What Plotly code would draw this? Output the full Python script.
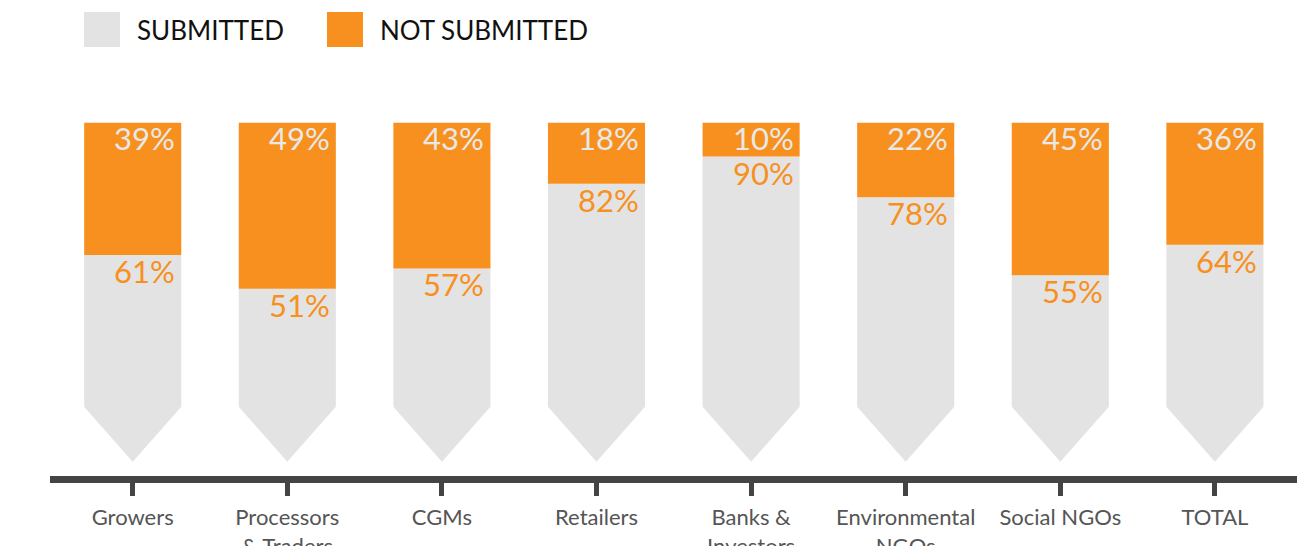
import plotly.graph_objects as go

categories = ["Growers", "Processors<br>& Traders", "CGMs", "Retailers",
              "Banks &<br>Investors", "Environmental<br>NGOs", "Social NGOs", "TOTAL"]
submitted = [61, 51, 57, 82, 90, 78, 55, 64]
not_submitted = [39, 49, 43, 18, 10, 22, 45, 36]

GRAY = "#E3E3E3"
ORANGE = "#F7901E"
AXIS = "#444444"
FONT = "Lato"

HW = 0.314      # half bar width (category units)
ARROW = 16.2    # arrow height (percentage units)

W, H = 1300, 546
ML, MR, MT, MB = 50, 3, 0, 70
PW = W - ML - MR
PH = H - MT - MB

fig = go.Figure()

for i, (s, n) in enumerate(zip(submitted, not_submitted)):
    total = s + n
    # gray pentagon (submitted)
    fig.add_trace(go.Scatter(
        x=[i - HW, i + HW, i + HW, i, i - HW, i - HW],
        y=[s, s, ARROW, 0, ARROW, s],
        fill="toself", fillcolor=GRAY, mode="lines",
        line=dict(width=0, color=GRAY), hoverinfo="skip", showlegend=False))
    # orange rectangle (not submitted)
    fig.add_trace(go.Scatter(
        x=[i - HW, i + HW, i + HW, i - HW, i - HW],
        y=[s, s, total, total, s],
        fill="toself", fillcolor=ORANGE, mode="lines",
        line=dict(width=0, color=ORANGE), hoverinfo="skip", showlegend=False))
    fig.add_annotation(x=i + HW, y=total, xref="x", yref="y",
                       text=f"{n}%", showarrow=False, xanchor="right", yanchor="top",
                       xshift=-5, yshift=5, borderpad=0,
                       font=dict(family=FONT, size=31, color="#E8E8E8"))
    fig.add_annotation(x=i + HW, y=s, xref="x", yref="y",
                       text=f"{s}%", showarrow=False, xanchor="right", yanchor="top",
                       xshift=-5, yshift=4, borderpad=0,
                       font=dict(family=FONT, size=31, color=ORANGE))

# legend (manual)
def px_x(p):
    return (p - ML) / PW

def px_y(p):
    return 1 - (p - MT) / PH

legend_items = [("SUBMITTED", GRAY, 84), ("NOT SUBMITTED", ORANGE, 327)]
for label, col, x0 in legend_items:
    fig.add_shape(type="rect", xref="paper", yref="paper",
                  x0=px_x(x0), x1=px_x(x0 + 36), y0=px_y(47), y1=px_y(12),
                  fillcolor=col, line=dict(width=0))
    fig.add_annotation(xref="paper", yref="paper", x=px_x(x0 + 51), y=px_y(30),
                       text=label, showarrow=False, xanchor="left", yanchor="middle",
                       font=dict(family=FONT, size=26, color="#111111"))

y_bottom = -((H - MB) - 461.7) / 3.39
y_top = 461.7 / 3.39

fig.update_layout(
    width=W, height=H,
    margin=dict(l=ML, r=MR, t=MT, b=MB, autoexpand=False),
    paper_bgcolor="white", plot_bgcolor="white",
    showlegend=False,
    xaxis=dict(
        range=[-0.535, 7.531], tickmode="array",
        tickvals=list(range(len(categories))), ticktext=categories,
        showgrid=False, zeroline=False, showline=True, linewidth=7, linecolor=AXIS,
        ticks="outside", ticklen=13, tickwidth=5, tickcolor=AXIS,
        ticklabelstandoff=3, automargin=False,
        tickfont=dict(family=FONT, size=22, color="#555555"),
        fixedrange=True,
    ),
    yaxis=dict(range=[y_bottom, y_top], visible=False, fixedrange=True, automargin=False),
)

fig.write_html("out.html")
